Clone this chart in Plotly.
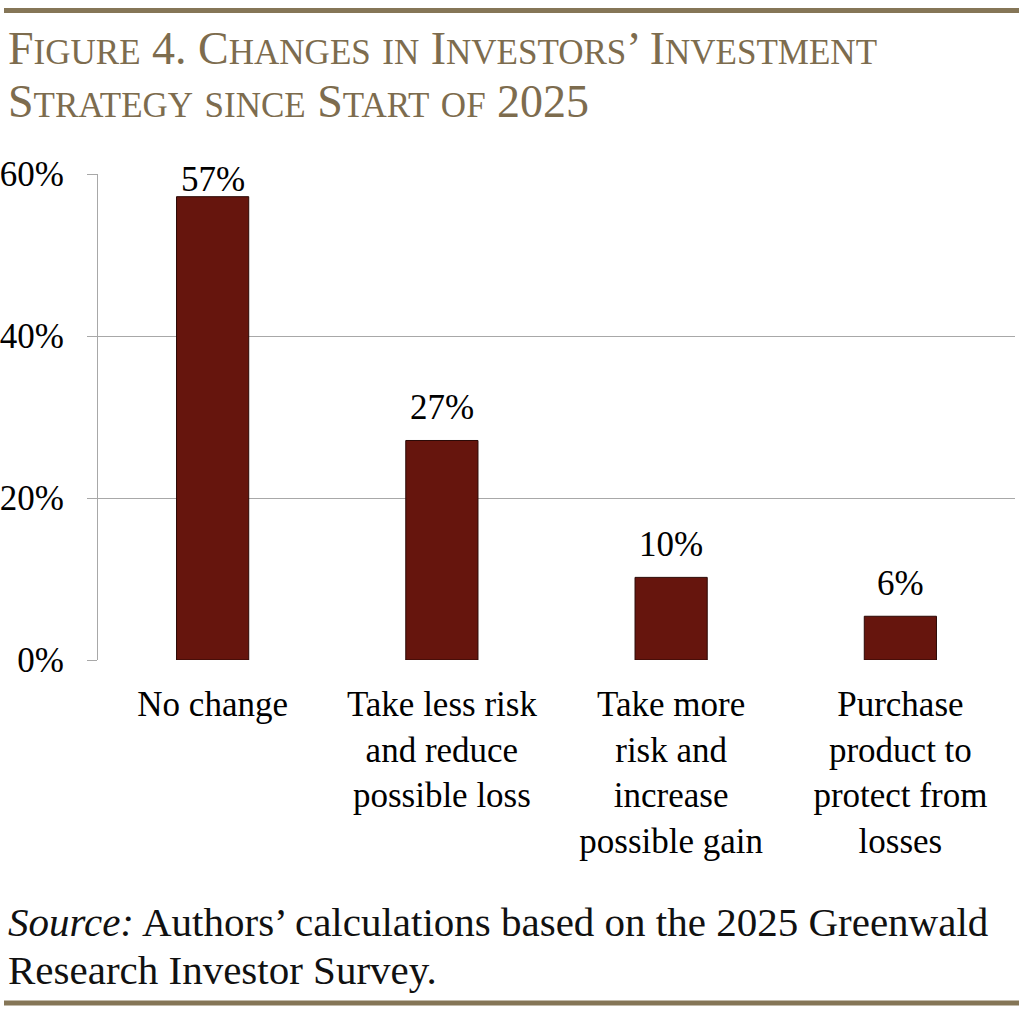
import plotly.graph_objects as go

categories = ["No change", "Take less risk<br>and reduce<br>possible loss",
              "Take more<br>risk and<br>increase<br>possible gain",
              "Purchase<br>product to<br>protect from<br>losses"]
values = [57.2, 27.1, 10.2, 5.4]
value_labels = ["57%", "27%", "10%", "6%"]
label_shift = [-4, 11, 11, 11]
y_ticks = [0, 20, 40, 60]
y_tick_labels = ["0%", "20%", "40%", "60%"]

W, H = 1024, 1012
L, R, T, B = 98, 9, 174, 352
PW, PH = W - L - R, H - T - B

def px(x):
    return (x - L) / PW

def py(y):
    return (H - B - y) / PH

TITLE_C = "#7d6c4e"
RULE_C = "#857657"
SERIF = "Liberation Serif"

def smallcaps(s, big=46, small=35):
    out = []
    for word in s.split(" "):
        w = ""
        for ch in word:
            if ch.isupper() or ch.isdigit() or ch in ".'’":
                w += f'<span style="font-size:{big}px">{ch}</span>'
            else:
                w += f'<span style="font-size:{small}px">{ch.upper()}</span>'
        out.append(w)
    return " ".join(out)

xs = list(range(len(categories)))
fig = go.Figure()
fig.add_trace(go.Bar(
    x=xs, y=values,
    marker=dict(color="#66150d", line=dict(color="#2b0906", width=1)),
    cliponaxis=False, width=0.315, hoverinfo="skip",
))
for xi, v, lab, s in zip(xs, values, value_labels, label_shift):
    fig.add_annotation(x=xi, y=v, xref="x", yref="y", text=lab, showarrow=False,
                       yanchor="bottom", yshift=s,
                       font=dict(family=SERIF, size=35, color="#000000"))

fig.update_layout(
    width=W, height=H, margin=dict(l=L, r=R, t=T, b=B),
    paper_bgcolor="white", plot_bgcolor="white", showlegend=False,
    font=dict(family=SERIF, color="#000000"),
    xaxis=dict(tickvals=xs, ticktext=categories, automargin=False,
               range=[-0.5, 3.5], showgrid=False, showline=False, ticks="",
               ticklabelstandoff=20,
               tickfont=dict(family=SERIF, size=35), fixedrange=True),
    yaxis=dict(range=[0, 60], tickvals=y_ticks, ticktext=y_tick_labels,
               automargin=False,
               showgrid=True, gridcolor="#a8a8a8", gridwidth=1,
               showline=True, linecolor="#a8a8a8", linewidth=1,
               ticks="outside", ticklen=10, tickcolor="#a8a8a8",
               ticklabelstandoff=16,
               tickfont=dict(family=SERIF, size=35), zeroline=False,
               fixedrange=True),
)

fig.add_shape(type="line", xref="paper", yref="paper",
              x0=px(4), x1=px(1019), y0=py(10.5), y1=py(10.5),
              line=dict(color=RULE_C, width=5))
fig.add_shape(type="line", xref="paper", yref="paper",
              x0=px(4), x1=px(1019), y0=py(1003), y1=py(1003),
              line=dict(color=RULE_C, width=5))

fig.add_annotation(xref="paper", yref="paper", x=px(6), y=py(76),
                   xanchor="left", yanchor="bottom", showarrow=False,
                   text=smallcaps("Figure 4. Changes in Investors’ Investment"),
                   font=dict(family=SERIF, color=TITLE_C, size=46))
fig.add_annotation(xref="paper", yref="paper", x=px(6), y=py(129),
                   xanchor="left", yanchor="bottom", showarrow=False,
                   text=smallcaps("Strategy since Start of 2025"),
                   font=dict(family=SERIF, color=TITLE_C, size=46))

fig.add_annotation(xref="paper", yref="paper", x=px(6), y=py(947),
                   xanchor="left", yanchor="bottom", showarrow=False,
                   text="<i>Source:</i> Authors’ calculations based on the 2025 Greenwald",
                   font=dict(family=SERIF, color="#111111", size=41))
fig.add_annotation(xref="paper", yref="paper", x=px(6), y=py(995),
                   xanchor="left", yanchor="bottom", showarrow=False,
                   text="Research Investor Survey.",
                   font=dict(family=SERIF, color="#111111", size=41))

fig.write_html("out.html", config={"displayModeBar": False},
               post_script="document.body.style.margin='0px';")
